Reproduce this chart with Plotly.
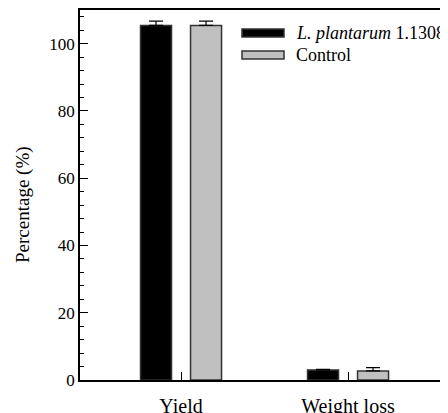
import plotly.graph_objects as go

categories = ["Yield", "Weight loss"]
series_names = ["<i>L. plantarum</i> 1.1308", "Control"]
lp_values = [105.4, 3.0]
lp_errors = [1.3, 0.2]
ctrl_values = [105.4, 2.7]
ctrl_errors = [1.3, 0.95]
y_ticks = [0, 20, 40, 60, 80, 100]
y_title = "Percentage (%)"

FONT = "Liberation Serif"
W, H = 448, 413
OFF = 8  # page body margin
ML, MR, MT, MB = 80 - OFF, 0, 10 - OFF, 413 - 380 + OFF

fig = go.Figure()
fig.add_trace(go.Bar(
    x=categories, y=lp_values, name=series_names[0],
    marker=dict(color="#000000", line=dict(color="#333333", width=1.5)),
    error_y=dict(type="data", array=lp_errors, arrayminus=[0, 0], symmetric=False,
                 color="#000000", thickness=1.2, width=7),
    showlegend=False,
))
fig.add_trace(go.Bar(
    x=categories, y=ctrl_values, name=series_names[1],
    marker=dict(color="#c0c0c0", line=dict(color="#333333", width=1.5)),
    error_y=dict(type="data", array=ctrl_errors, arrayminus=[0, 0], symmetric=False,
                 color="#000000", thickness=1.2, width=7),
    showlegend=False,
))

pw = W - ML - MR
ph = H - MT - MB

def px_x(x):
    return (x - OFF - ML) / pw

def px_y(y):
    return (H - MB - (y - OFF)) / ph

# manual legend
legend_items = [("#000000", series_names[0], 29, 37, 33), ("#c0c0c0", series_names[1], 51, 59, 55)]
shapes = []
annotations = []
for color, name, y0, y1, yc in legend_items:
    shapes.append(dict(type="rect", xref="paper", yref="paper",
                       x0=px_x(242), x1=px_x(284), y0=px_y(y1), y1=px_y(y0),
                       fillcolor=color, line=dict(color="#333333", width=1.5)))
    annotations.append(dict(xref="paper", yref="paper", x=px_x(294), y=px_y(yc),
                            xanchor="left", yanchor="middle", text=name, showarrow=False,
                            font=dict(family=FONT, size=18, color="#000000")))

# y axis title
annotations.append(dict(xref="paper", yref="paper", x=px_x(23), y=px_y(204),
                        xanchor="center", yanchor="middle", text=y_title, textangle=-90,
                        showarrow=False, font=dict(family=FONT, size=19, color="#000000")))

x_left = -0.605
unit = 167.0
x_right = x_left + pw / unit

fig.update_layout(
    width=W, height=H,
    margin=dict(l=ML, r=MR, t=MT, b=MB),
    paper_bgcolor="white", plot_bgcolor="white",
    barmode="group", bargap=0.401, bargroupgap=0.38,
    font=dict(family=FONT, color="#000000"),
    shapes=shapes, annotations=annotations,
    xaxis=dict(
        range=[x_left, x_right], showline=True, linecolor="#000000", linewidth=1.5,
        mirror=True, ticks="inside", ticklen=8, tickwidth=1, tickcolor="#000000",
        showgrid=False, zeroline=False, tickfont=dict(family=FONT, size=20),
        ticklabelstandoff=7,
    ),
    yaxis=dict(
        range=[0, 110], tickvals=y_ticks, showline=True, linecolor="#000000", linewidth=1.5,
        ticks="inside", ticklen=8, tickwidth=1, tickcolor="#000000",
        minor=dict(dtick=4, ticks="inside", ticklen=4, tickwidth=1, tickcolor="#000000"),
        showgrid=False, zeroline=False, tickfont=dict(family=FONT, size=17),
    ),
)

fig.write_html("out.html")
